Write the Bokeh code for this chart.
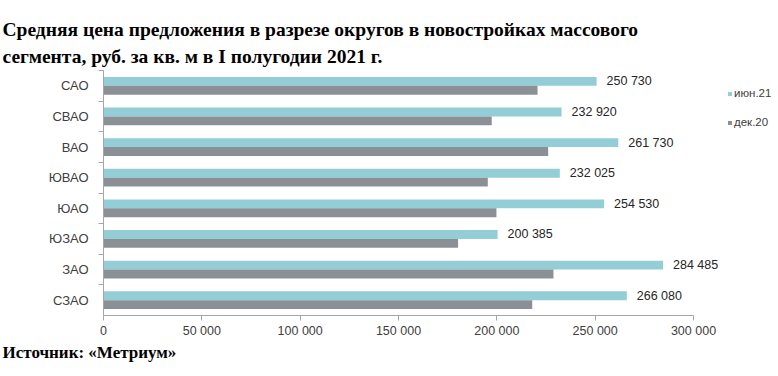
from bokeh.plotting import figure
from bokeh.models import (ColumnDataSource, Range1d, FixedTicker, Legend, LegendItem,
                          LabelSet, Title)
from bokeh.core.properties import value
from bokeh.transform import dodge
from bokeh.embed import file_html
from bokeh.resources import INLINE

# ---- data ----
districts = ["САО", "СВАО", "ВАО", "ЮВАО", "ЮАО", "ЮЗАО", "ЗАО", "СЗАО"]
jun21 = [250730, 232920, 261730, 232025, 254530, 200385, 284485, 266080]
dec20 = [220700, 197400, 226100, 195400, 199800, 180300, 228800, 218000]
series_names = ["июн.21", "дек.20"]
x_ticks = [0, 50000, 100000, 150000, 200000, 250000, 300000]
title_lines = ["Средняя цена предложения в разрезе округов в новостройках массового",
               "сегмента, руб. за кв. м в I полугодии 2021 г."]
source_note = "Источник: «Метриум»"

C_JUN = "#93CDD6"
C_DEC = "#8B9096"
TXT = "#404040"
AX = "#A6A6A6"

n = len(districts)
ypos = [n - 1 - i for i in range(n)]
labels = [f"{v:,}".replace(",", " ") for v in jun21]
src = ColumnDataSource(dict(y=ypos, jun=jun21, dec=dec20, lab=labels))

W, H = 778, 376
left, right_b, top, bottom = 103, 0, 70, 61
frame_w = W - left - right_b
axis_px = 590  # pixel length of the 0..300000 axis
x_end = x_ticks[-1] * frame_w / axis_px

p = figure(width=W, height=H, output_backend="svg", toolbar_location=None,
           x_range=Range1d(0, x_end), y_range=Range1d(-0.5, n - 0.5),
           min_border_left=left, min_border_right=right_b,
           min_border_top=top, min_border_bottom=bottom)
p.title = None
p.outline_line_color = None
p.xgrid.visible = False
p.ygrid.visible = False
p.background_fill_color = "white"
p.border_fill_color = "white"

bh = 0.29
r_jun = p.hbar(y=dodge("y", bh / 2, range=p.y_range), right="jun", left=0, height=bh,
               source=src, fill_color=C_JUN, line_color=None)
r_dec = p.hbar(y=dodge("y", -bh / 2, range=p.y_range), right="dec", left=0, height=bh,
               source=src, fill_color=C_DEC, line_color=None)

lbl = LabelSet(x="jun", y=dodge("y", bh / 2, range=p.y_range), text="lab", source=src,
               x_offset=10, text_baseline="middle", text_font=value("Liberation Sans"),
               text_font_size=value("12.5px"), text_color=value("#262626"))
p.add_layout(lbl)

# x axis
xa = p.xaxis[0]
xa.ticker = FixedTicker(ticks=x_ticks, minor_ticks=[])
xa.major_label_overrides = {v: f"{v:,}".replace(",", " ") for v in x_ticks}
xa.bounds = (0, x_ticks[-1])
xa.axis_line_color = AX
xa.major_tick_line_color = AX
xa.major_tick_out = 5
xa.major_tick_in = 0
xa.minor_tick_line_color = None
xa.major_label_text_font = "Liberation Sans"
xa.major_label_text_font_size = "12.5px"
xa.major_label_text_color = TXT
xa.major_label_standoff = 3

# y axis
ya = p.yaxis[0]
ya.ticker = FixedTicker(ticks=ypos, minor_ticks=[k + 0.5 for k in range(n)])
ya.major_label_overrides = {y: d for y, d in zip(ypos, districts)}
ya.axis_line_color = AX
ya.major_tick_line_color = None
ya.major_tick_out = 0
ya.major_tick_in = 0
ya.minor_tick_line_color = AX
ya.minor_tick_out = 5
ya.minor_tick_in = 0
ya.major_label_text_font = "Liberation Sans"
ya.major_label_text_font_size = "13px"
ya.major_label_text_color = TXT
ya.major_label_standoff = 10

legend = Legend(items=[LegendItem(label=series_names[0], renderers=[r_jun]),
                       LegendItem(label=series_names[1], renderers=[r_dec])],
                location=(727 - left, 315 - 129), margin=0, padding=0,
                glyph_width=5, glyph_height=5, label_standoff=2,
                label_height=14, spacing=15, border_line_color=None,
                background_fill_alpha=0, label_text_font="Liberation Sans",
                label_text_font_size="11.5px", label_text_color=TXT)
p.add_layout(legend)

# titles (added nearest-first)
standoffs = [0, 8]
for line, so in zip(reversed(title_lines), reversed(standoffs)):
    p.add_layout(Title(text=line, align="left", offset=-(left - 2),
                       text_font="Liberation Serif", text_font_style="bold",
                       text_font_size="19.5px", text_color="black", standoff=so), "above")

p.add_layout(Title(text=source_note, align="left", offset=-(left - 2),
                   text_font="Liberation Serif", text_font_style="bold",
                   text_font_size="17px", text_color="black", standoff=0), "below")

open("out.html", "w").write(file_html(p, INLINE))
